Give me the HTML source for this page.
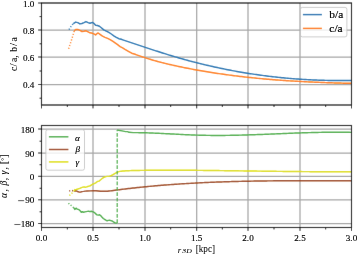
<!DOCTYPE html>
<html><head><meta charset="utf-8"><style>
html,body{margin:0;padding:0;background:#fff;width:357px;height:255px;overflow:hidden}
svg{display:block;will-change:transform}
text{font-family:"Liberation Serif",serif;fill:#000;stroke:#000;stroke-width:0.15px}
text.ns{stroke-width:0.04px}
</style></head><body>
<svg width="357" height="255" viewBox="0 0 357 255">
<defs><filter id="bl" x="0" y="0" width="357" height="255" filterUnits="userSpaceOnUse"><feConvolveMatrix order="3" kernelMatrix="0.00250 0.04500 0.00250 0.04500 0.81000 0.04500 0.00250 0.04500 0.00250" divisor="1" edgeMode="duplicate" preserveAlpha="false"/></filter></defs>
<rect width="357" height="255" fill="#fff"/>
<g filter="url(#bl)">
<rect width="357" height="255" fill="#fff"/>
<line x1="93.00" y1="3.00" x2="93.00" y2="105.00" stroke="#a6a6a6" stroke-width="1.25" />
<line x1="145.00" y1="3.00" x2="145.00" y2="105.00" stroke="#a6a6a6" stroke-width="1.25" />
<line x1="196.70" y1="3.00" x2="196.70" y2="105.00" stroke="#a6a6a6" stroke-width="1.25" />
<line x1="248.00" y1="3.00" x2="248.00" y2="105.00" stroke="#a6a6a6" stroke-width="1.25" />
<line x1="300.00" y1="3.00" x2="300.00" y2="105.00" stroke="#a6a6a6" stroke-width="1.25" />
<line x1="41.50" y1="30.00" x2="351.50" y2="30.00" stroke="#a6a6a6" stroke-width="1.25" />
<line x1="41.50" y1="57.00" x2="351.50" y2="57.00" stroke="#a6a6a6" stroke-width="1.25" />
<line x1="41.50" y1="84.50" x2="351.50" y2="84.50" stroke="#a6a6a6" stroke-width="1.25" />
<polyline points="69.00,29.60 70.50,27.20 72.30,24.80 73.30,23.60" fill="none" stroke="#1f77b4" stroke-width="1.45" stroke-linejoin="round" stroke-dasharray="1.1 1.8" stroke-linecap="butt"/>
<polyline points="73.30,23.60 75.70,22.10 77.80,22.60 79.90,23.90 81.90,23.50 84.00,22.60 86.00,21.60 88.10,22.60 90.00,23.30 92.50,22.40 93.80,23.30 95.60,25.30 97.50,25.50 99.40,26.20 101.30,27.80 103.80,29.90 106.30,31.20 108.80,32.40 111.30,34.00 113.80,35.80 116.30,37.40 118.80,38.70 121.30,39.30 122.80,39.82 124.30,40.33 125.80,40.83 127.30,41.34 128.80,41.84 130.30,42.35 131.80,42.85 133.30,43.36 134.80,43.86 136.30,44.37 137.80,44.87 139.30,45.37 140.80,45.88 142.30,46.38 143.80,46.88 145.30,47.38 146.80,47.87 148.30,48.37 149.80,48.86 151.30,49.36 152.80,49.85 154.30,50.33 155.80,50.82 157.30,51.31 158.80,51.79 160.30,52.27 161.80,52.74 163.30,53.21 164.80,53.68 166.30,54.15 167.80,54.61 169.30,55.07 170.80,55.53 172.30,55.98 173.80,56.43 175.30,56.87 176.80,57.31 178.30,57.75 179.80,58.18 181.30,58.61 182.80,59.03 184.30,59.45 185.80,59.86 187.30,60.27 188.80,60.68 190.30,61.08 191.80,61.47 193.30,61.87 194.80,62.25 196.30,62.64 197.80,63.02 199.30,63.39 200.80,63.76 202.30,64.13 203.80,64.49 205.30,64.85 206.80,65.21 208.30,65.56 209.80,65.90 211.30,66.24 212.80,66.58 214.30,66.92 215.80,67.24 217.30,67.57 218.80,67.89 220.30,68.21 221.80,68.52 223.30,68.83 224.80,69.13 226.30,69.43 227.80,69.73 229.30,70.02 230.80,70.31 232.30,70.59 233.80,70.87 235.30,71.14 236.80,71.42 238.30,71.68 239.80,71.95 241.30,72.20 242.80,72.46 244.30,72.71 245.80,72.96 247.30,73.20 248.80,73.44 250.30,73.67 251.80,73.90 253.30,74.13 254.80,74.35 256.30,74.57 257.80,74.78 259.30,74.99 260.80,75.20 262.30,75.40 263.80,75.60 265.30,75.79 266.80,75.99 268.30,76.17 269.80,76.35 271.30,76.53 272.80,76.71 274.30,76.88 275.80,77.04 277.30,77.21 278.80,77.36 280.30,77.52 281.80,77.67 283.30,77.82 284.80,77.96 286.30,78.10 287.80,78.23 289.30,78.36 290.80,78.49 292.30,78.61 293.80,78.73 295.30,78.85 296.80,78.96 298.30,79.07 299.80,79.17 301.30,79.27 302.80,79.37 304.30,79.46 305.80,79.55 307.30,79.63 308.80,79.71 310.30,79.79 311.80,79.86 313.30,79.93 314.80,80.00 316.30,80.06 317.80,80.12 319.30,80.17 320.80,80.22 322.30,80.27 323.80,80.31 325.30,80.35 326.80,80.38 328.30,80.42 329.80,80.44 331.30,80.47 332.80,80.49 334.30,80.50 335.80,80.52 337.30,80.52 338.80,80.53 340.30,80.53 341.80,80.53 343.30,80.52 344.80,80.51 346.30,80.50 347.80,80.48 349.30,80.46 350.80,80.44 351.50,80.42" fill="none" stroke="#1f77b4" stroke-width="1.45" stroke-linejoin="round" />
<polyline points="68.60,48.70 69.80,45.00 71.00,41.50 72.30,37.50 73.70,32.90 74.40,30.80" fill="none" stroke="#ff7f0e" stroke-width="1.45" stroke-linejoin="round" stroke-dasharray="1.1 1.8"/>
<polyline points="74.40,30.80 75.70,29.40 77.80,29.40 79.90,30.40 81.90,31.50 84.00,31.20 86.00,30.80 88.10,31.80 90.00,32.80 92.50,33.30 94.40,34.10 95.60,34.90 96.90,33.70 98.20,33.00 100.00,34.30 102.50,36.20 105.00,37.40 107.60,38.40 110.10,39.60 112.60,41.20 115.10,42.80 117.60,44.60 120.10,46.60 122.60,47.80 125.00,49.30 128.40,51.30 131.70,53.20 135.10,54.30 136.60,54.84 138.10,55.38 139.60,55.91 141.10,56.43 142.60,56.94 144.10,57.43 145.60,57.92 147.10,58.39 148.60,58.86 150.10,59.31 151.60,59.76 153.10,60.20 154.60,60.62 156.10,61.04 157.60,61.45 159.10,61.86 160.60,62.25 162.10,62.64 163.60,63.02 165.10,63.39 166.60,63.75 168.10,64.11 169.60,64.46 171.10,64.81 172.60,65.15 174.10,65.48 175.60,65.81 177.10,66.14 178.60,66.45 180.10,66.77 181.60,67.08 183.10,67.38 184.60,67.69 186.10,67.98 187.60,68.28 189.10,68.57 190.60,68.85 192.10,69.14 193.60,69.42 195.10,69.69 196.60,69.97 198.10,70.23 199.60,70.50 201.10,70.76 202.60,71.02 204.10,71.27 205.60,71.53 207.10,71.77 208.60,72.02 210.10,72.26 211.60,72.50 213.10,72.73 214.60,72.96 216.10,73.19 217.60,73.42 219.10,73.64 220.60,73.86 222.10,74.07 223.60,74.28 225.10,74.49 226.60,74.70 228.10,74.90 229.60,75.10 231.10,75.30 232.60,75.49 234.10,75.68 235.60,75.87 237.10,76.05 238.60,76.24 240.10,76.41 241.60,76.59 243.10,76.76 244.60,76.93 246.10,77.10 247.60,77.27 249.10,77.43 250.60,77.59 252.10,77.75 253.60,77.90 255.10,78.05 256.60,78.20 258.10,78.35 259.60,78.49 261.10,78.63 262.60,78.77 264.10,78.91 265.60,79.04 267.10,79.17 268.60,79.30 270.10,79.43 271.60,79.55 273.10,79.67 274.60,79.79 276.10,79.91 277.60,80.02 279.10,80.13 280.60,80.24 282.10,80.35 283.60,80.46 285.10,80.56 286.60,80.66 288.10,80.76 289.60,80.86 291.10,80.95 292.60,81.05 294.10,81.14 295.60,81.23 297.10,81.31 298.60,81.40 300.10,81.48 301.60,81.56 303.10,81.64 304.60,81.72 306.10,81.80 307.60,81.87 309.10,81.94 310.60,82.01 312.10,82.08 313.60,82.15 315.10,82.21 316.60,82.28 318.10,82.34 319.60,82.40 321.10,82.46 322.60,82.51 324.10,82.57 325.60,82.62 327.10,82.68 328.60,82.73 330.10,82.78 331.60,82.83 333.10,82.87 334.60,82.92 336.10,82.96 337.60,83.00 339.10,83.05 340.60,83.09 342.10,83.12 343.60,83.16 345.10,83.20 346.60,83.23 348.10,83.27 349.60,83.30 351.10,83.33 351.50,83.34" fill="none" stroke="#ff7f0e" stroke-width="1.45" stroke-linejoin="round" />
<rect x="300.5" y="7.4" width="46.4" height="29.5" rx="1.9" fill="#fff" fill-opacity="0.8" stroke="#b8b8b8" stroke-opacity="0.8" stroke-width="0.9"/>
<line x1="302.90" y1="14.60" x2="321.90" y2="14.60" stroke="#1f77b4" stroke-width="1.45" />
<line x1="302.90" y1="28.40" x2="321.90" y2="28.40" stroke="#ff7f0e" stroke-width="1.45" />
<rect x="41.5" y="3.0" width="310.0" height="102.0" fill="none" stroke="#000" stroke-width="1.15"/>
<line x1="41.50" y1="105.00" x2="41.50" y2="108.40" stroke="#000" stroke-width="0.9" />
<line x1="93.00" y1="105.00" x2="93.00" y2="108.40" stroke="#000" stroke-width="0.9" />
<line x1="145.00" y1="105.00" x2="145.00" y2="108.40" stroke="#000" stroke-width="0.9" />
<line x1="196.70" y1="105.00" x2="196.70" y2="108.40" stroke="#000" stroke-width="0.9" />
<line x1="248.00" y1="105.00" x2="248.00" y2="108.40" stroke="#000" stroke-width="0.9" />
<line x1="300.00" y1="105.00" x2="300.00" y2="108.40" stroke="#000" stroke-width="0.9" />
<line x1="351.50" y1="105.00" x2="351.50" y2="108.40" stroke="#000" stroke-width="0.9" />
<line x1="67.33" y1="105.00" x2="67.33" y2="106.95" stroke="#000" stroke-width="0.9" />
<line x1="119.00" y1="105.00" x2="119.00" y2="106.95" stroke="#000" stroke-width="0.9" />
<line x1="170.67" y1="105.00" x2="170.67" y2="106.95" stroke="#000" stroke-width="0.9" />
<line x1="222.33" y1="105.00" x2="222.33" y2="106.95" stroke="#000" stroke-width="0.9" />
<line x1="274.00" y1="105.00" x2="274.00" y2="106.95" stroke="#000" stroke-width="0.9" />
<line x1="325.67" y1="105.00" x2="325.67" y2="106.95" stroke="#000" stroke-width="0.9" />
<line x1="38.10" y1="3.00" x2="41.50" y2="3.00" stroke="#000" stroke-width="0.9" />
<line x1="38.10" y1="30.00" x2="41.50" y2="30.00" stroke="#000" stroke-width="0.9" />
<line x1="38.10" y1="57.00" x2="41.50" y2="57.00" stroke="#000" stroke-width="0.9" />
<line x1="38.10" y1="84.50" x2="41.50" y2="84.50" stroke="#000" stroke-width="0.9" />
<line x1="39.55" y1="16.60" x2="41.50" y2="16.60" stroke="#000" stroke-width="0.9" />
<line x1="39.55" y1="43.80" x2="41.50" y2="43.80" stroke="#000" stroke-width="0.9" />
<line x1="39.55" y1="71.00" x2="41.50" y2="71.00" stroke="#000" stroke-width="0.9" />
<line x1="39.55" y1="98.20" x2="41.50" y2="98.20" stroke="#000" stroke-width="0.9" />
<line x1="93.00" y1="125.50" x2="93.00" y2="227.50" stroke="#a6a6a6" stroke-width="1.25" />
<line x1="145.00" y1="125.50" x2="145.00" y2="227.50" stroke="#a6a6a6" stroke-width="1.25" />
<line x1="196.70" y1="125.50" x2="196.70" y2="227.50" stroke="#a6a6a6" stroke-width="1.25" />
<line x1="248.00" y1="125.50" x2="248.00" y2="227.50" stroke="#a6a6a6" stroke-width="1.25" />
<line x1="300.00" y1="125.50" x2="300.00" y2="227.50" stroke="#a6a6a6" stroke-width="1.25" />
<line x1="41.50" y1="129.00" x2="351.50" y2="129.00" stroke="#a6a6a6" stroke-width="1.25" />
<line x1="41.50" y1="153.00" x2="351.50" y2="153.00" stroke="#a6a6a6" stroke-width="1.25" />
<line x1="41.50" y1="176.30" x2="351.50" y2="176.30" stroke="#a6a6a6" stroke-width="1.25" />
<line x1="41.50" y1="199.80" x2="351.50" y2="199.80" stroke="#a6a6a6" stroke-width="1.25" />
<line x1="41.50" y1="223.50" x2="351.50" y2="223.50" stroke="#a6a6a6" stroke-width="1.25" />
<polyline points="69.20,191.10 70.20,190.70 71.50,190.50 72.70,190.70 74.00,191.00" fill="none" stroke="#a04818" stroke-width="1.45" stroke-linejoin="round" stroke-dasharray="1.1 1.8"/>
<polyline points="74.00,191.00 75.70,190.70 76.90,191.10 78.20,191.80 79.40,192.10 80.70,192.00 82.00,191.60 83.60,191.40 85.30,191.10 87.00,191.00 90.40,190.90 93.70,190.70 96.00,190.80 100.70,191.30 107.40,191.30 108.90,191.08 110.40,190.87 111.90,190.67 113.40,190.46 114.90,190.26 116.40,190.07 117.90,189.87 119.40,189.68 120.90,189.49 122.40,189.31 123.90,189.12 125.40,188.94 126.90,188.76 128.40,188.59 129.90,188.41 131.40,188.24 132.90,188.07 134.40,187.91 135.90,187.75 137.40,187.58 138.90,187.43 140.40,187.27 141.90,187.12 143.40,186.96 144.90,186.81 146.40,186.67 147.90,186.52 149.40,186.38 150.90,186.24 152.40,186.10 153.90,185.97 155.40,185.84 156.90,185.71 158.40,185.58 159.90,185.45 161.40,185.33 162.90,185.20 164.40,185.08 165.90,184.97 167.40,184.85 168.90,184.74 170.40,184.62 171.90,184.51 173.40,184.41 174.90,184.30 176.40,184.20 177.90,184.10 179.40,184.00 180.90,183.90 182.40,183.80 183.90,183.71 185.40,183.62 186.90,183.53 188.40,183.44 189.90,183.35 191.40,183.27 192.90,183.18 194.40,183.10 195.90,183.02 197.40,182.94 198.90,182.87 200.40,182.79 201.90,182.72 203.40,182.65 204.90,182.58 206.40,182.51 207.90,182.45 209.40,182.38 210.90,182.32 212.40,182.26 213.90,182.20 215.40,182.14 216.90,182.08 218.40,182.02 219.90,181.97 221.40,181.92 222.90,181.87 224.40,181.82 225.90,181.77 227.40,181.72 228.90,181.68 230.40,181.63 231.90,181.59 233.40,181.55 234.90,181.51 236.40,181.47 237.90,181.43 239.40,181.39 240.90,181.36 242.40,181.32 243.90,181.29 245.40,181.26 246.90,181.23 248.40,181.20 249.90,181.17 251.40,181.14 252.90,181.11 254.40,181.09 255.90,181.06 257.40,181.04 258.90,181.02 260.40,181.00 261.90,180.98 263.40,180.96 264.90,180.94 266.40,180.92 267.90,180.90 269.40,180.89 270.90,180.87 272.40,180.86 273.90,180.84 275.40,180.83 276.90,180.82 278.40,180.81 279.90,180.80 281.40,180.79 282.90,180.78 284.40,180.77 285.90,180.76 287.40,180.76 288.90,180.75 290.40,180.74 291.90,180.74 293.40,180.73 294.90,180.73 296.40,180.73 297.90,180.72 299.40,180.72 300.90,180.72 302.40,180.72 303.90,180.72 305.40,180.72 306.90,180.72 308.40,180.72 309.90,180.72 311.40,180.72 312.90,180.72 314.40,180.72 315.90,180.72 317.40,180.72 318.90,180.73 320.40,180.73 321.90,180.73 323.40,180.74 324.90,180.74 326.40,180.74 327.90,180.75 329.40,180.75 330.90,180.75 332.40,180.76 333.90,180.76 335.40,180.77 336.90,180.77 338.40,180.78 339.90,180.78 341.40,180.78 342.90,180.79 344.40,180.79 345.90,180.80 347.40,180.80 348.90,180.81 350.40,180.81 351.50,180.81" fill="none" stroke="#a04818" stroke-width="1.45" stroke-linejoin="round" />
<polyline points="69.40,195.50 70.60,194.50 71.90,193.20 73.10,192.10 74.00,191.00" fill="none" stroke="#dede00" stroke-width="1.45" stroke-linejoin="round" stroke-dasharray="1.1 1.8"/>
<polyline points="74.00,191.00 74.80,189.60 75.70,189.90 76.50,189.40 77.80,189.00 79.00,188.60 80.30,188.20 81.50,187.60 82.80,187.10 84.10,186.90 85.30,187.30 86.60,186.90 87.80,186.50 89.10,186.10 90.40,185.70 91.60,184.80 92.90,184.00 94.20,183.60 95.70,182.80 97.40,181.50 99.00,181.10 100.70,179.70 102.40,178.30 104.10,177.20 105.80,176.60 107.40,176.40 109.70,176.10 111.40,175.50 113.00,174.70 114.70,173.60 116.40,172.70 118.10,171.90 119.80,171.40 121.30,171.20 122.80,171.04 124.30,170.92 125.80,170.81 127.30,170.73 128.80,170.67 130.30,170.61 131.80,170.57 133.30,170.54 134.80,170.51 136.30,170.48 137.80,170.45 139.30,170.43 140.80,170.40 142.30,170.38 143.80,170.36 145.30,170.34 146.80,170.32 148.30,170.31 149.80,170.29 151.30,170.28 152.80,170.26 154.30,170.25 155.80,170.24 157.30,170.23 158.80,170.22 160.30,170.22 161.80,170.21 163.30,170.21 164.80,170.20 166.30,170.20 167.80,170.20 169.30,170.20 170.80,170.20 172.30,170.20 173.80,170.20 175.30,170.21 176.80,170.21 178.30,170.22 179.80,170.22 181.30,170.23 182.80,170.24 184.30,170.24 185.80,170.25 187.30,170.26 188.80,170.27 190.30,170.28 191.80,170.30 193.30,170.31 194.80,170.32 196.30,170.34 197.80,170.35 199.30,170.36 200.80,170.38 202.30,170.39 203.80,170.41 205.30,170.43 206.80,170.44 208.30,170.46 209.80,170.48 211.30,170.49 212.80,170.51 214.30,170.53 215.80,170.55 217.30,170.57 218.80,170.59 220.30,170.61 221.80,170.62 223.30,170.64 224.80,170.66 226.30,170.68 227.80,170.70 229.30,170.72 230.80,170.74 232.30,170.76 233.80,170.78 235.30,170.80 236.80,170.82 238.30,170.84 239.80,170.86 241.30,170.88 242.80,170.90 244.30,170.92 245.80,170.95 247.30,170.97 248.80,170.99 250.30,171.01 251.80,171.03 253.30,171.05 254.80,171.07 256.30,171.09 257.80,171.11 259.30,171.13 260.80,171.15 262.30,171.17 263.80,171.19 265.30,171.20 266.80,171.22 268.30,171.24 269.80,171.26 271.30,171.28 272.80,171.30 274.30,171.32 275.80,171.34 277.30,171.35 278.80,171.37 280.30,171.39 281.80,171.40 283.30,171.42 284.80,171.44 286.30,171.45 287.80,171.47 289.30,171.48 290.80,171.50 292.30,171.51 293.80,171.53 295.30,171.54 296.80,171.56 298.30,171.57 299.80,171.58 301.30,171.59 302.80,171.61 304.30,171.62 305.80,171.63 307.30,171.64 308.80,171.65 310.30,171.66 311.80,171.67 313.30,171.68 314.80,171.69 316.30,171.69 317.80,171.70 319.30,171.71 320.80,171.71 322.30,171.72 323.80,171.72 325.30,171.73 326.80,171.73 328.30,171.73 329.80,171.74 331.30,171.74 332.80,171.74 334.30,171.74 335.80,171.74 337.30,171.74 338.80,171.74 340.30,171.73 341.80,171.73 343.30,171.73 344.80,171.72 346.30,171.72 347.80,171.71 349.30,171.70 350.80,171.69 351.50,171.69" fill="none" stroke="#dede00" stroke-width="1.45" stroke-linejoin="round" />
<polyline points="68.50,203.20 69.80,204.60 70.60,205.20 72.00,206.00 73.10,207.40" fill="none" stroke="#4daf4a" stroke-width="1.45" stroke-linejoin="round" stroke-dasharray="1.1 1.8"/>
<polyline points="73.10,207.40 74.00,208.00 74.80,209.40 75.40,208.80 76.30,208.20 77.10,209.10 78.20,209.40 79.30,209.90 80.30,210.90 81.30,212.20 82.40,211.80 83.60,212.20 84.90,211.90 86.20,211.60 87.40,211.40 88.70,211.30 89.90,211.60 91.20,211.30 92.50,211.60 93.70,212.20 94.50,212.60 95.80,213.90 97.00,214.90 98.30,215.10 99.60,214.70 100.80,215.70 102.10,217.20 103.30,218.50 104.60,219.30 105.90,220.20 107.10,220.80 108.40,220.40 109.60,220.20 110.90,220.60 112.20,221.00 113.40,221.90 114.70,222.70 116.00,223.10 117.20,223.10" fill="none" stroke="#4daf4a" stroke-width="1.45" stroke-linejoin="round" />
<line x1="117.20" y1="223.10" x2="117.20" y2="129.90" stroke="#4daf4a" stroke-width="1.2325" stroke-dasharray="3.8 1.6"/>
<polyline points="117.20,129.90 118.50,130.20 122.00,130.90 125.50,131.60 127.60,131.60 129.00,132.30 133.20,132.60 134.70,132.61 136.20,132.62 137.70,132.64 139.20,132.66 140.70,132.69 142.20,132.72 143.70,132.75 145.20,132.79 146.70,132.84 148.20,132.89 149.70,132.94 151.20,132.99 152.70,133.05 154.20,133.11 155.70,133.17 157.20,133.24 158.70,133.31 160.20,133.38 161.70,133.45 163.20,133.52 164.70,133.60 166.20,133.67 167.70,133.75 169.20,133.83 170.70,133.91 172.20,133.99 173.70,134.06 175.20,134.14 176.70,134.22 178.20,134.30 179.70,134.38 181.20,134.45 182.70,134.52 184.20,134.60 185.70,134.67 187.20,134.74 188.70,134.80 190.20,134.87 191.70,134.93 193.20,134.99 194.70,135.05 196.20,135.10 197.70,135.15 199.20,135.19 200.70,135.24 202.20,135.27 203.70,135.31 205.20,135.34 206.70,135.36 208.20,135.39 209.70,135.40 211.20,135.42 212.70,135.43 214.20,135.44 215.70,135.45 217.20,135.45 218.70,135.45 220.20,135.44 221.70,135.44 223.20,135.43 224.70,135.41 226.20,135.40 227.70,135.38 229.20,135.36 230.70,135.34 232.20,135.31 233.70,135.28 235.20,135.25 236.70,135.22 238.20,135.18 239.70,135.15 241.20,135.11 242.70,135.07 244.20,135.03 245.70,134.98 247.20,134.94 248.70,134.89 250.20,134.84 251.70,134.79 253.20,134.74 254.70,134.69 256.20,134.63 257.70,134.58 259.20,134.52 260.70,134.47 262.20,134.41 263.70,134.35 265.20,134.29 266.70,134.23 268.20,134.17 269.70,134.11 271.20,134.05 272.70,133.99 274.20,133.93 275.70,133.87 277.20,133.81 278.70,133.74 280.20,133.68 281.70,133.62 283.20,133.56 284.70,133.50 286.20,133.44 287.70,133.38 289.20,133.32 290.70,133.26 292.20,133.20 293.70,133.15 295.20,133.09 296.70,133.04 298.20,132.98 299.70,132.93 301.20,132.88 302.70,132.83 304.20,132.78 305.70,132.73 307.20,132.68 308.70,132.64 310.20,132.60 311.70,132.56 313.20,132.52 314.70,132.48 316.20,132.44 317.70,132.41 319.20,132.38 320.70,132.35 322.20,132.32 323.70,132.30 325.20,132.28 326.70,132.26 328.20,132.24 329.70,132.23 331.20,132.22 332.70,132.21 334.20,132.20 335.70,132.20 337.20,132.20 338.70,132.21 340.20,132.21 341.70,132.22 343.20,132.24 344.70,132.26 346.20,132.28 347.70,132.30 349.20,132.33 350.70,132.36 351.50,132.38" fill="none" stroke="#4daf4a" stroke-width="1.45" stroke-linejoin="round" />
<rect x="45.9" y="129.7" width="38.6" height="40.5" rx="1.9" fill="#fff" fill-opacity="0.8" stroke="#b8b8b8" stroke-opacity="0.8" stroke-width="0.9"/>
<line x1="48.90" y1="136.80" x2="68.40" y2="136.80" stroke="#4daf4a" stroke-width="1.45" />
<line x1="48.90" y1="149.50" x2="68.40" y2="149.50" stroke="#a04818" stroke-width="1.45" />
<line x1="48.90" y1="161.90" x2="68.40" y2="161.90" stroke="#dede00" stroke-width="1.45" />
<rect x="41.5" y="125.5" width="310.0" height="102.0" fill="none" stroke="#000" stroke-width="1.15"/>
<line x1="41.50" y1="227.50" x2="41.50" y2="230.90" stroke="#000" stroke-width="0.9" />
<line x1="93.00" y1="227.50" x2="93.00" y2="230.90" stroke="#000" stroke-width="0.9" />
<line x1="145.00" y1="227.50" x2="145.00" y2="230.90" stroke="#000" stroke-width="0.9" />
<line x1="196.70" y1="227.50" x2="196.70" y2="230.90" stroke="#000" stroke-width="0.9" />
<line x1="248.00" y1="227.50" x2="248.00" y2="230.90" stroke="#000" stroke-width="0.9" />
<line x1="300.00" y1="227.50" x2="300.00" y2="230.90" stroke="#000" stroke-width="0.9" />
<line x1="351.50" y1="227.50" x2="351.50" y2="230.90" stroke="#000" stroke-width="0.9" />
<line x1="67.33" y1="227.50" x2="67.33" y2="229.45" stroke="#000" stroke-width="0.9" />
<line x1="119.00" y1="227.50" x2="119.00" y2="229.45" stroke="#000" stroke-width="0.9" />
<line x1="170.67" y1="227.50" x2="170.67" y2="229.45" stroke="#000" stroke-width="0.9" />
<line x1="222.33" y1="227.50" x2="222.33" y2="229.45" stroke="#000" stroke-width="0.9" />
<line x1="274.00" y1="227.50" x2="274.00" y2="229.45" stroke="#000" stroke-width="0.9" />
<line x1="325.67" y1="227.50" x2="325.67" y2="229.45" stroke="#000" stroke-width="0.9" />
<line x1="38.10" y1="129.00" x2="41.50" y2="129.00" stroke="#000" stroke-width="0.9" />
<line x1="38.10" y1="153.00" x2="41.50" y2="153.00" stroke="#000" stroke-width="0.9" />
<line x1="38.10" y1="176.30" x2="41.50" y2="176.30" stroke="#000" stroke-width="0.9" />
<line x1="38.10" y1="199.80" x2="41.50" y2="199.80" stroke="#000" stroke-width="0.9" />
<rect x="18.10" y="200.35" width="6.0" height="0.75" fill="#000"/>
<line x1="38.10" y1="223.50" x2="41.50" y2="223.50" stroke="#000" stroke-width="0.9" />
<rect x="14.40" y="224.05" width="6.0" height="0.75" fill="#000"/>
<line x1="39.55" y1="141.19" x2="41.50" y2="141.19" stroke="#000" stroke-width="0.9" />
<line x1="39.55" y1="164.73" x2="41.50" y2="164.73" stroke="#000" stroke-width="0.9" />
<line x1="39.55" y1="188.27" x2="41.50" y2="188.27" stroke="#000" stroke-width="0.9" />
<line x1="39.55" y1="211.81" x2="41.50" y2="211.81" stroke="#000" stroke-width="0.9" />
</g>
<g class="t">
<text x="329.30" y="18.10" text-anchor="start" font-size="9.8" textLength="13.9" lengthAdjust="spacingAndGlyphs">b/a</text>
<text x="329.30" y="32.00" text-anchor="start" font-size="9.8" textLength="13.4" lengthAdjust="spacingAndGlyphs">c/a</text>
<text x="34.30" y="6.50" text-anchor="end" font-size="9.1" >1.0</text>
<text x="34.30" y="33.50" text-anchor="end" font-size="9.1" >0.8</text>
<text x="34.30" y="60.50" text-anchor="end" font-size="9.1" >0.6</text>
<text x="34.30" y="88.00" text-anchor="end" font-size="9.1" >0.4</text>
<text class="ns" transform="translate(16.7,71.1) rotate(-90)" font-size="9.7">c</text>
<text class="ns" transform="translate(16.7,66.6) rotate(-90)" font-size="11.0">/</text>
<text class="ns" transform="translate(16.7,62.0) rotate(-90)" font-size="9.7">a</text>
<text class="ns" transform="translate(16.7,57.8) rotate(-90)" font-size="9.7">,</text>
<text class="ns" transform="translate(16.7,51.8) rotate(-90)" font-size="9.7">b</text>
<text class="ns" transform="translate(16.7,46.0) rotate(-90)" font-size="11.0">/</text>
<text class="ns" transform="translate(16.7,41.5) rotate(-90)" font-size="9.7">a</text>
<text x="74.90" y="140.90" text-anchor="start" font-size="9.1" font-style="italic">α</text>
<text x="75.40" y="151.90" text-anchor="start" font-size="9.1" font-style="italic">β</text>
<text x="75.60" y="165.20" text-anchor="start" font-size="9.1" font-style="italic">γ</text>
<text x="41.50" y="241.30" text-anchor="middle" font-size="9.1" >0.0</text>
<text x="93.00" y="241.30" text-anchor="middle" font-size="9.1" >0.5</text>
<text x="145.00" y="241.30" text-anchor="middle" font-size="9.1" >1.0</text>
<text x="196.70" y="241.30" text-anchor="middle" font-size="9.1" >1.5</text>
<text x="248.00" y="241.30" text-anchor="middle" font-size="9.1" >2.0</text>
<text x="300.00" y="241.30" text-anchor="middle" font-size="9.1" >2.5</text>
<text x="351.50" y="241.30" text-anchor="middle" font-size="9.1" >3.0</text>
<text x="34.30" y="132.60" text-anchor="end" font-size="9.1" >180</text>
<text x="34.30" y="156.60" text-anchor="end" font-size="9.1" >90</text>
<text x="34.30" y="179.90" text-anchor="end" font-size="9.1" >0</text>
<text x="34.30" y="203.40" text-anchor="end" font-size="9.1" >90</text>
<text x="34.30" y="227.10" text-anchor="end" font-size="9.1" >180</text>
<text class="ns" transform="translate(7.3,198.0) rotate(-90)" font-size="9.7" font-style="italic">α</text>
<text class="ns" transform="translate(7.3,191.6) rotate(-90)" font-size="9.7">,</text>
<text class="ns" transform="translate(7.3,185.6) rotate(-90)" font-size="9.7" font-style="italic">β</text>
<text class="ns" transform="translate(7.3,180.3) rotate(-90)" font-size="9.7">,</text>
<text class="ns" transform="translate(7.3,174.6) rotate(-90)" font-size="9.7" font-style="italic">γ</text>
<text class="ns" transform="translate(7.3,169.4) rotate(-90)" font-size="9.7">,</text>
<text class="ns" transform="translate(7.1,164.3) rotate(-90)" font-size="11.0">[</text>
<text class="ns" transform="translate(5.6,160.8) rotate(-90)" font-size="7.0">°</text>
<text class="ns" transform="translate(7.1,158.1) rotate(-90)" font-size="11.0">]</text>
<text class="ns" x="177.8" y="252.5" font-size="8.8" font-style="italic">r</text>
<text class="ns" x="182.3" y="253.3" font-size="5.9" font-style="italic" textLength="9.5" lengthAdjust="spacingAndGlyphs">3D</text>
<text class="ns" x="195.7" y="252.4" font-size="9.6" textLength="19.3" lengthAdjust="spacingAndGlyphs">[kpc]</text>
</g>
</svg>
</body></html>
